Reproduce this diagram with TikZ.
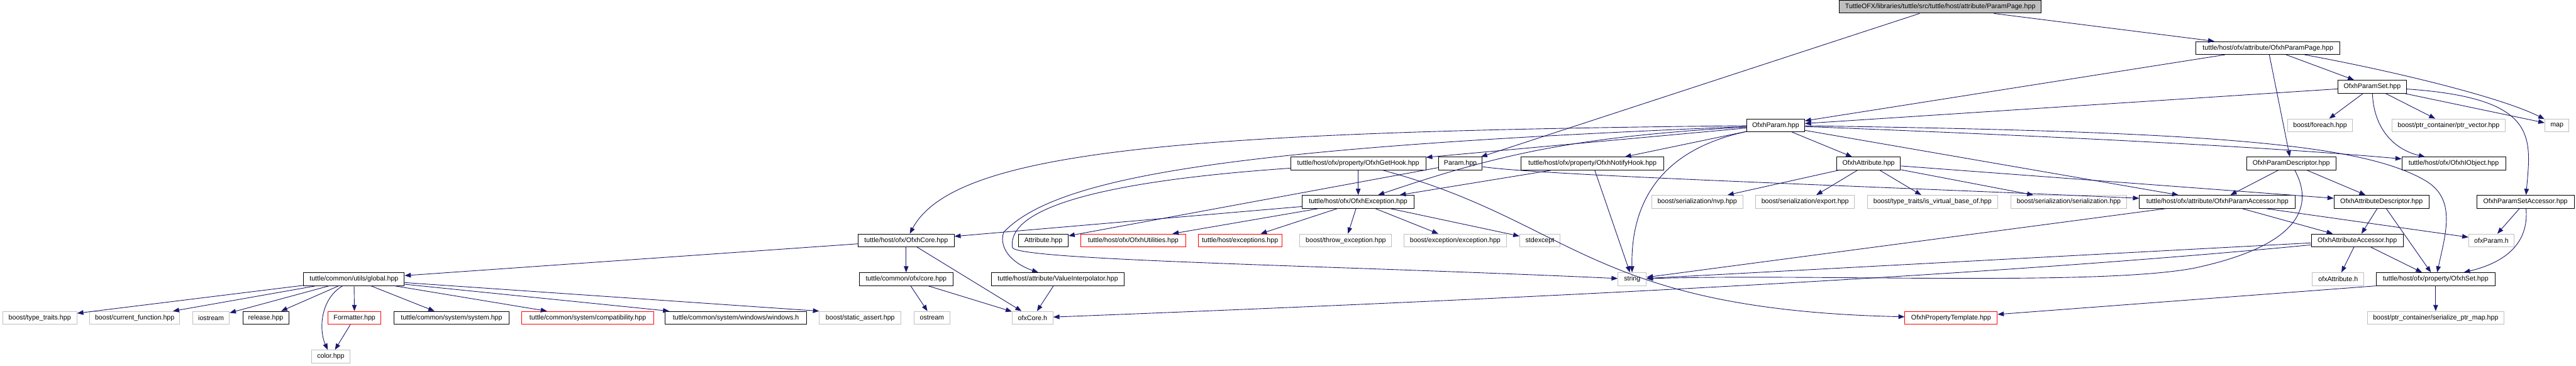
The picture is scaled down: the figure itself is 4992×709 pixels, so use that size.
\documentclass[tikz,border=0pt]{standalone}
\usepackage{fontspec}
\setmainfont{Liberation Sans}
\usetikzlibrary{arrows.meta}
\definecolor{edgeblue}{HTML}{191970}
\definecolor{extgray}{HTML}{BFBFBF}
\begin{document}
\begin{tikzpicture}[x=1pt, y=-1pt,
  box/.style={draw=black, fill=white, line width=1.2pt, minimum height=25pt, inner sep=0pt, font=\fontsize{13}{15}\selectfont},
  ext/.style={box, draw=extgray},
  trunc/.style={box, draw=red},
  rootbox/.style={box, fill=extgray},
  wd/.style={minimum width=#1pt},
  arrow/.style={-{Triangle[length=12pt,width=9pt]}, draw=edgeblue, line width=1.1pt}
]
\useasboundingbox (0,0) rectangle (4992,709);
\node[rootbox, wd=392] (root) at (3760,13) {TuttleOFX/libraries/tuttle/src/tuttle/host/attribute/ParamPage.hpp};
\node[box, wd=279] (parampage) at (4395,93) {tuttle/host/ofx/attribute/OfxhParamPage.hpp};
\node[box, wd=133] (paramset) at (4597,168) {OfxhParamSet.hpp};
\node[box, wd=112] (ofxhparam) at (3441,243) {OfxhParam.hpp};
\node[ext, wd=126] (foreach) at (4496,243) {boost/foreach.hpp};
\node[ext, wd=220] (ptrvector) at (4745,243) {boost/ptr\_container/ptr\_vector.hpp};
\node[ext, wd=47] (stdmap) at (4955,243) {map};
\node[box, wd=262] (gethook) at (2632,317) {tuttle/host/ofx/property/OfxhGetHook.hpp};
\node[box, wd=85] (param) at (2830,317) {Param.hpp};
\node[box, wd=277] (notifyhook) at (3086,317) {tuttle/host/ofx/property/OfxhNotifyHook.hpp};
\node[box, wd=124] (ofxhattribute) at (3621,317) {OfxhAttribute.hpp};
\node[box, wd=173] (paramdesc) at (4440,317) {OfxhParamDescriptor.hpp};
\node[box, wd=201] (iobject) at (4755,317) {tuttle/host/ofx/OfxhIObject.hpp};
\node[box, wd=217] (ofxhexception) at (2632,391) {tuttle/host/ofx/OfxhException.hpp};
\node[ext, wd=177] (sernvp) at (3289,391) {boost/serialization/nvp.hpp};
\node[ext, wd=191] (serexport) at (3498,391) {boost/serialization/export.hpp};
\node[ext, wd=253] (isvirtual) at (3745,391) {boost/type\_traits/is\_virtual\_base\_of.hpp};
\node[ext, wd=224] (serialization) at (4009,391) {boost/serialization/serialization.hpp};
\node[box, wd=302] (paramaccessor) at (4297,391) {tuttle/host/ofx/attribute/OfxhParamAccessor.hpp};
\node[box, wd=184] (attrdesc) at (4615,391) {OfxhAttributeDescriptor.hpp};
\node[box, wd=189] (paramsetaccessor) at (4894,391) {OfxhParamSetAccessor.hpp};
\node[box, wd=186] (ofxhcore) at (1756,466) {tuttle/host/ofx/OfxhCore.hpp};
\node[box, wd=96] (attribute) at (2022,466) {Attribute.hpp};
\node[trunc, wd=203] (utilities) at (2196,466) {tuttle/host/ofx/OfxhUtilities.hpp};
\node[trunc, wd=162] (exceptions) at (2403,466) {tuttle/host/exceptions.hpp};
\node[ext, wd=178] (throwexc) at (2608,466) {boost/throw\_exception.hpp};
\node[ext, wd=199] (boostexc) at (2820,466) {boost/exception/exception.hpp};
\node[ext, wd=78] (stdexcept) at (2984,466) {stdexcept};
\node[box, wd=178] (attraccessor) at (4568,466) {OfxhAttributeAccessor.hpp};
\node[ext, wd=88] (ofxparam) at (4828,466) {ofxParam.h};
\node[box, wd=195] (global) at (686,541) {tuttle/common/utils/global.hpp};
\node[box, wd=181] (commoncore) at (1756,541) {tuttle/common/ofx/core.hpp};
\node[box, wd=258] (valueinterp) at (2050,541) {tuttle/host/attribute/ValueInterpolator.hpp};
\node[ext, wd=55] (stdstring) at (3163,541) {string};
\node[ext, wd=100] (ofxattribute) at (4531,541) {ofxAttribute.h};
\node[box, wd=231] (ofxhset) at (4720,541) {tuttle/host/ofx/property/OfxhSet.hpp};
\node[ext, wd=144] (typetraits) at (77,616) {boost/type\_traits.hpp};
\node[ext, wd=175] (currentfn) at (261,616) {boost/current\_function.hpp};
\node[ext, wd=71] (iostream) at (409,616) {iostream};
\node[box, wd=89] (release) at (515,616) {release.hpp};
\node[trunc, wd=103] (formatter) at (687,616) {Formatter.hpp};
\node[box, wd=224] (system) at (875,616) {tuttle/common/system/system.hpp};
\node[trunc, wd=255] (compat) at (1139,616) {tuttle/common/system/compatibility.hpp};
\node[box, wd=274] (windows) at (1426,616) {tuttle/common/system/windows/windows.h};
\node[ext, wd=158] (staticassert) at (1667,616) {boost/static\_assert.hpp};
\node[ext, wd=69] (ostream) at (1806,616) {ostream};
\node[ext, wd=79] (ofxcore) at (2001,616) {ofxCore.h};
\node[trunc, wd=179] (proptemplate) at (3781,616) {OfxhPropertyTemplate.hpp};
\node[ext, wd=264] (serptrmap) at (4720,616) {boost/ptr\_container/serialize\_ptr\_map.hpp};
\node[ext, wd=75] (color) at (641,691) {color.hpp};
\draw[arrow] (root) -- (parampage);
\draw[arrow] (root) -- (param);
\draw[arrow] (parampage) -- (paramset);
\draw[arrow] (parampage) -- (ofxhparam);
\draw[arrow] (parampage) -- (paramdesc);
\draw[arrow] (parampage) .. controls (4650,140) and (4850,190) .. (stdmap);
\draw[arrow] (paramset) -- (ofxhparam);
\draw[arrow] (paramset) -- (foreach);
\draw[arrow] (paramset) -- (ptrvector);
\draw[arrow] (paramset) .. controls (4600,250) and (4640,290) .. (iobject);
\draw[arrow] (paramset) -- (stdmap);
\draw[arrow] (paramset) .. controls (4920,190) and (4905,265) .. (paramsetaccessor);
\draw[arrow] (ofxhparam) .. controls (2300,255) and (1850,290) .. (ofxhcore);
\draw[arrow] (ofxhparam) .. controls (2400,285) and (2050,340) .. (1945,450) .. controls (1935,480) and (1960,510) .. (valueinterp);
\draw[arrow] (ofxhparam) -- (gethook);
\draw[arrow] (ofxhparam) -- (notifyhook);
\draw[arrow] (ofxhparam) .. controls (3050,265) and (2900,300) .. (ofxhexception);
\draw[arrow] (ofxhparam) .. controls (3220,290) and (3160,390) .. (stdstring);
\draw[arrow] (ofxhparam) -- (ofxhattribute);
\draw[arrow] (ofxhparam) .. controls (4000,265) and (4400,285) .. (iobject);
\draw[arrow] (ofxhparam) .. controls (4300,255) and (4580,280) .. (4700,350) .. controls (4760,385) and (4740,450) .. (ofxhset);
\draw[arrow] (ofxhparam) -- (paramaccessor);
\draw[arrow] (param) -- (attribute);
\draw[arrow] (param) .. controls (2990,340) and (3600,360) .. (paramaccessor);
\draw[arrow] (gethook) -- (ofxhexception);
\draw[arrow] (gethook) .. controls (3050,430) and (3080,600) .. (proptemplate);
\draw[arrow] (gethook) .. controls (2150,350) and (1950,400) .. (1962,480) .. controls (1975,505) and (2600,515) .. (stdstring);
\draw[arrow] (notifyhook) -- (ofxhexception);
\draw[arrow] (notifyhook) -- (stdstring);
\draw[arrow] (ofxhattribute) -- (sernvp);
\draw[arrow] (ofxhattribute) -- (serexport);
\draw[arrow] (ofxhattribute) -- (isvirtual);
\draw[arrow] (ofxhattribute) -- (serialization);
\draw[arrow] (ofxhattribute) -- (attrdesc);
\draw[arrow] (paramdesc) -- (paramaccessor);
\draw[arrow] (paramdesc) -- (attrdesc);
\draw[arrow] (paramdesc) .. controls (4490,410) and (4440,480) .. (4250,520) .. controls (4060,555) and (3500,530) .. (stdstring);
\draw[arrow] (ofxhexception) -- (ofxhcore);
\draw[arrow] (ofxhexception) -- (utilities);
\draw[arrow] (ofxhexception) -- (exceptions);
\draw[arrow] (ofxhexception) -- (throwexc);
\draw[arrow] (ofxhexception) -- (boostexc);
\draw[arrow] (ofxhexception) -- (stdexcept);
\draw[arrow] (paramaccessor) -- (attraccessor);
\draw[arrow] (paramaccessor) -- (ofxparam);
\draw[arrow] (paramaccessor) -- (stdstring);
\draw[arrow] (attrdesc) -- (attraccessor);
\draw[arrow] (attrdesc) -- (ofxhset);
\draw[arrow] (paramsetaccessor) -- (ofxparam);
\draw[arrow] (paramsetaccessor) .. controls (4900,460) and (4870,505) .. (ofxhset);
\draw[arrow] (attraccessor) -- (ofxattribute);
\draw[arrow] (attraccessor) -- (ofxhset);
\draw[arrow] (attraccessor) -- (stdstring);
\draw[arrow] (attraccessor) .. controls (3800,540) and (2800,585) .. (ofxcore);
\draw[arrow] (ofxhset) -- (serptrmap);
\draw[arrow] (ofxhset.south west) -- (proptemplate);
\draw[arrow] (ofxhcore) -- (commoncore);
\draw[arrow] (ofxhcore) -- (ofxcore);
\draw[arrow] (ofxhcore) -- (global);
\draw[arrow] (commoncore) -- (ostream);
\draw[arrow] (commoncore) -- (ofxcore);
\draw[arrow] (valueinterp) -- (ofxcore);
\draw[arrow] (global) -- (typetraits);
\draw[arrow] (global) -- (currentfn);
\draw[arrow] (global) -- (iostream);
\draw[arrow] (global) -- (release);
\draw[arrow] (global) .. controls (620,580) and (618,640) .. (color);
\draw[arrow] (global) -- (formatter);
\draw[arrow] (global) -- (system);
\draw[arrow] (global) -- (compat);
\draw[arrow] (global) -- (windows);
\draw[arrow] (global) -- (staticassert.north west);
\draw[arrow] (formatter) -- (color);
\end{tikzpicture}
\end{document}
